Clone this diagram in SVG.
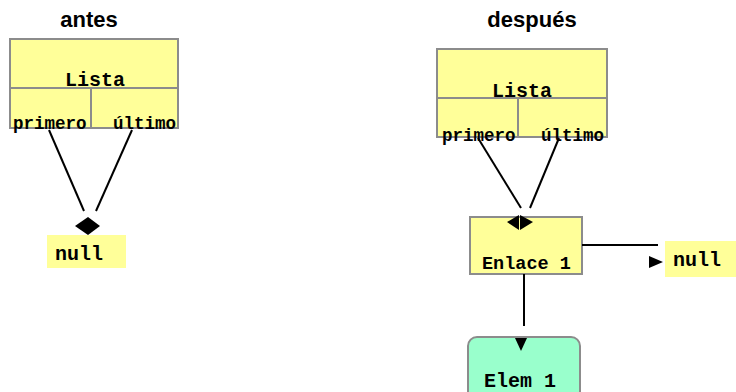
<svg xmlns="http://www.w3.org/2000/svg" width="736" height="392" viewBox="0 0 736 392">
  <style>
    .box { fill: #FFFF99; stroke: #8c8c8c; stroke-width: 2; }
    .cell { fill: none; stroke: #8c8c8c; stroke-width: 2; }
    .plain { fill: #FFFF99; stroke: none; }
    .elem { fill: #99FFCC; stroke: #8c8c8c; stroke-width: 2; }
    .title { font-family: "Liberation Sans", Arial, sans-serif; font-weight: bold; font-size: 22px; fill: #000; }
    .mono { font-family: "Liberation Mono", "Courier New", monospace; font-weight: bold; fill: #000; }
    .link { stroke: #000; stroke-width: 2; fill: none; }
    .head { fill: #000; stroke: none; }
  </style>

  <!-- headings -->
  <text class="title" x="89" y="27" text-anchor="middle">antes</text>
  <text class="title" x="532" y="27" text-anchor="middle">después</text>

  <!-- list header, initial state -->
  <g id="lista-antes">
    <rect class="box" x="10" y="39" width="168" height="89"/>
    <line class="cell" x1="10" y1="88" x2="178" y2="88"/>
    <line class="cell" x1="91" y1="88" x2="91" y2="128"/>
    <text class="mono" x="95" y="86" font-size="20" text-anchor="middle">Lista</text>
    <text class="mono" x="13" y="129" font-size="17.5">primero</text>
    <text class="mono" x="113" y="129" font-size="17.5">último</text>
  </g>

  <g id="null-antes">
    <rect class="plain" x="47" y="235" width="79" height="33"/>
    <text class="mono" x="55" y="260" font-size="20">null</text>
  </g>

  <!-- list header, after insertion -->
  <g id="lista-despues">
    <rect class="box" x="437" y="49" width="170" height="88"/>
    <line class="cell" x1="437" y1="98" x2="607" y2="98"/>
    <line class="cell" x1="518" y1="98" x2="518" y2="137"/>
    <text class="mono" x="522" y="97" font-size="20" text-anchor="middle">Lista</text>
    <text class="mono" x="442" y="141" font-size="17.5">primero</text>
    <text class="mono" x="541" y="141" font-size="17.5">último</text>
  </g>

  <g id="enlace-1">
    <rect class="box" x="470" y="217" width="112" height="57"/>
    <text class="mono" x="482" y="269" font-size="18.5">Enlace 1</text>
  </g>

  <g id="null-despues">
    <rect class="plain" x="665" y="241" width="75" height="36"/>
    <text class="mono" x="673" y="266" font-size="20">null</text>
  </g>

  <g id="elem-1">
    <rect class="elem" x="468" y="337" width="112" height="70" rx="9" ry="9"/>
    <text class="mono" x="484" y="387" font-size="20">Elem 1</text>
  </g>

  <!-- references -->
  <g id="connectors">
    <line class="link" x1="49" y1="130" x2="84" y2="211"/>
    <line class="link" x1="132" y1="130" x2="96" y2="211"/>
    <polygon class="head" points="75,226 88,217 100,226 88,235"/>

    <line class="link" x1="478" y1="138" x2="521" y2="208"/>
    <line class="link" x1="559" y1="138" x2="530" y2="208"/>
    <polygon class="head" points="507,222 519,215 519,230"/>
    <polygon class="head" points="520,215 533,222 520,230"/>

    <line class="link" x1="582" y1="245" x2="658" y2="245"/>
    <polygon class="head" points="649,256 663,262 649,268"/>

    <line class="link" x1="524" y1="274" x2="524" y2="326"/>
    <polygon class="head" points="515,338 527,338 521,351"/>
  </g>
</svg>
